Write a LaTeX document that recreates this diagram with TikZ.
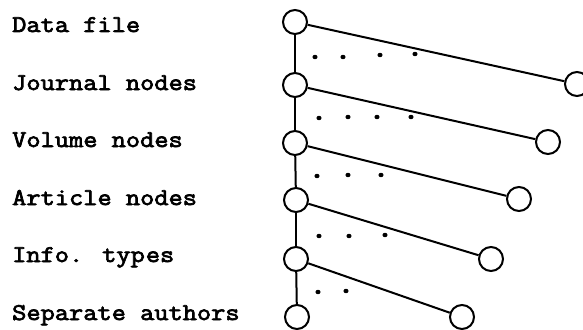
\documentclass[tikz,border=0pt]{standalone}
\usepackage{fontspec}
\newfontfamily\twfont[FakeStretch=1.15,FakeBold=3]{Latin Modern Mono}
\begin{document}
\begin{tikzpicture}[x=1pt,y=-1pt,
  knot/.style={circle,draw,line width=2pt,minimum size=24pt,inner sep=0pt},
  edge/.style={line width=2pt},
  lab/.style={anchor=base west,inner sep=0pt,font=\twfont\fontsize{24}{24}\selectfont},
  dot/.style={fill=black}]
\useasboundingbox (0,0) rectangle (583,329);
% labels
\node[lab] (t1) at (12,32) {Data file};
\node[lab] (t2) at (12,90) {Journal nodes};
\node[lab] (t3) at (12,147) {Volume nodes};
\node[lab] (t4) at (12,205) {Article nodes};
\node[lab] (t5) at (12,262) {Info. typ\kern1pt es};
\node[lab] (t6) at (12,320) {Separate authors};
% left chain
\node[knot] (L1) at (295,22) {};
\node[knot] (L2) at (295,85) {};
\node[knot] (L3) at (295,143) {};
\node[knot] (L4) at (296,200) {};
\node[knot] (L5) at (296,259) {};
\node[knot] (L6) at (297,317) {};
% right nodes
\node[knot] (R1) at (577,84) {};
\node[knot] (R2) at (548,142) {};
\node[knot] (R3) at (519,199) {};
\node[knot] (R4) at (491,259) {};
\node[knot] (R5) at (462,317) {};
% connectors
\draw[edge] (L1) -- (L2);
\draw[edge] (L2) -- (L3);
\draw[edge] (L3) -- (L4);
\draw[edge] (L4) -- (L5);
\draw[edge] (L5) -- (L6);
\draw[edge] (L1) -- (R1);
\draw[edge] (L2) -- (R2);
\draw[edge] (L3) -- (R3);
\draw[edge] (L4) -- (R4);
\draw[edge] (L5) -- (R5);
% dots
\foreach \p in {(315,57),(343,57),(380,55),(415,54),
                (319,118),(348,117),(377,117),(411,117),
                (317,176),(348,175),(381,175),
                (319,236),(349,236),(385,235),
                (318,292),(346,291)}
  \fill[dot] \p ellipse (2.6pt and 2.2pt);
\end{tikzpicture}
\end{document}
